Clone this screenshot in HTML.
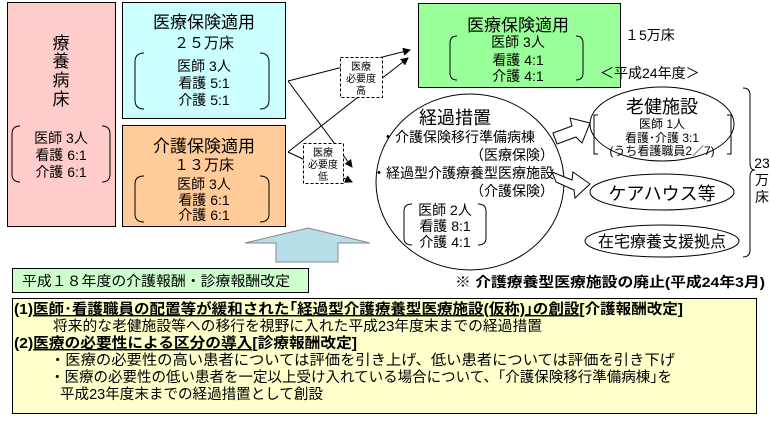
<!DOCTYPE html>
<html><head><meta charset="utf-8"><style>
body{margin:0;background:#fff}
svg{display:block;font-family:"Liberation Sans","Noto Sans CJK JP",sans-serif}
</style></head><body>
<svg width="770" height="421" viewBox="0 0 770 421" xmlns="http://www.w3.org/2000/svg">
<defs><marker id="ah" markerWidth="8" markerHeight="8" refX="7" refY="4" orient="auto" markerUnits="userSpaceOnUse"><path d="M0,0 L8,4 L0,8 z" fill="#000"/></marker></defs>
<!-- pink -->
<rect x="7.5" y="2.5" width="108" height="224" fill="#ffcccc" stroke="#000"/>
<g font-size="17" text-anchor="middle" fill="#000">
<text x="61" y="49">療</text><text x="61" y="67">養</text><text x="61" y="86">病</text><text x="61" y="105">床</text>
</g>
<g font-size="14" text-anchor="middle"><text x="61" y="143">医師 3人</text><text x="61" y="160">看護 6:1</text><text x="61" y="177">介護 6:1</text></g>
<path d="M20,126 Q12,126 12,134 L12,174 Q12,182 20,182 M102,126 Q110,126 110,134 L110,174 Q110,182 102,182" fill="none" stroke="#000"/>
<!-- cyan -->
<rect x="122.5" y="2.5" width="163" height="116" fill="#ccffff" stroke="#000"/>
<g text-anchor="middle"><text x="204" y="28" font-size="17">医療保険適用</text><text x="204" y="48" font-size="15">２５万床</text>
<g font-size="14"><text x="204" y="71">医師 3人</text><text x="204" y="88">看護 5:1</text><text x="204" y="105">介護 5:1</text></g></g>
<path d="M144,53 Q135,53 135,62 L135,100 Q135,109 144,109 M260,53 Q269,53 269,62 L269,100 Q269,109 260,109" fill="none" stroke="#000"/>
<!-- orange -->
<rect x="122.5" y="125.5" width="163" height="101" fill="#ffcc99" stroke="#000"/>
<g text-anchor="middle"><text x="204" y="152" font-size="17">介護保険適用</text><text x="204" y="170" font-size="15">１３万床</text>
<g font-size="14"><text x="204" y="189">医師 3人</text><text x="204" y="205">看護 6:1</text><text x="204" y="220">介護 6:1</text></g></g>
<path d="M144,176 Q135,176 135,184 L135,214 Q135,222 144,222 M260,176 Q269,176 269,184 L269,214 Q269,222 260,222" fill="none" stroke="#000"/>
<!-- up arrow -->
<polygon points="308,228 370,243 338,243 338,262 276,262 276,243 245,243" fill="#b7dde8" stroke="#888"/>
<!-- connectors -->
<g stroke="#000" stroke-width="1" marker-end="url(#ah)">
<line x1="288" y1="81" x2="410" y2="50"/><line x1="288" y1="81" x2="352" y2="167"/>
<line x1="288" y1="152" x2="408" y2="58"/><line x1="288" y1="152" x2="352" y2="182"/>
</g>
<rect x="340.5" y="57.5" width="42" height="40" fill="#fff" stroke="#000" stroke-dasharray="3,2"/>
<g font-size="10" text-anchor="middle"><text x="361" y="70">医療</text><text x="361" y="82">必要度</text><text x="361" y="94">高</text></g>
<rect x="303.5" y="143.5" width="40" height="40" fill="#fff" stroke="#000" stroke-dasharray="3,2"/>
<g font-size="10" text-anchor="middle"><text x="323" y="156">医療</text><text x="323" y="168">必要度</text><text x="323" y="180">低</text></g>
<!-- right green -->
<rect x="418.5" y="3.5" width="202" height="84" fill="#99ff99" stroke="#000"/>
<g text-anchor="middle"><text x="518" y="31" font-size="17">医療保険適用</text>
<g font-size="14"><text x="518" y="47">医師 3人</text><text x="518" y="65">看護 4:1</text><text x="518" y="81">介護 4:1</text></g></g>
<path d="M457,36 Q450,36 450,43 L450,73 Q450,80 457,80 M576,36 Q583,36 583,43 L583,73 Q583,80 576,80" fill="none" stroke="#000"/>
<text x="625" y="40" font-size="14">１5万床</text>
<text x="600" y="78" font-size="14">＜平成24年度＞</text>
<!-- big ellipse -->
<ellipse cx="470" cy="182" rx="94" ry="88" fill="#fff" stroke="#000"/>
<text x="455" y="124" font-size="18" text-anchor="middle">経過措置</text>
<g font-size="14"><text x="381" y="142">・介護保険移行準備病棟</text><text x="470" y="160">（医療保険）</text>
<text x="372" y="178">・経過型介護療養型医療施設</text><text x="470" y="196">（介護保険）</text></g>
<g font-size="14" text-anchor="middle"><text x="445" y="215">医師 2人</text><text x="445" y="231">看護 8:1</text><text x="445" y="247">介護 4:1</text></g>
<path d="M412,204 Q404,204 404,211 L404,238 Q404,245 412,245 M478,204 Q486,204 486,211 L486,238 Q486,245 478,245" fill="none" stroke="#000"/>
<!-- hollow arrows -->
<polygon points="553,133 572,126 570,118 590,123 582,143 576,137 557,144" fill="#fff" stroke="#000"/>
<polygon points="552,172 572,180 573,172 590,184 575,198 574,190 556,182" fill="#fff" stroke="#000"/>
<!-- right ellipses -->
<ellipse cx="662" cy="124" rx="72" ry="37" fill="#fff" stroke="#000"/>
<text x="662" y="113" font-size="18" text-anchor="middle">老健施設</text>
<g font-size="12" text-anchor="middle"><text x="662" y="128">医師 1人</text><text x="662" y="142">看護･介護 3:1</text><text x="662" y="155">(うち看護職員2／7)</text></g>
<path d="M598,115 L594,115 L594,154 L598,154 M727,115 L731,115 L731,154 L727,154" fill="none" stroke="#000"/>
<ellipse cx="662" cy="192" rx="72" ry="18" fill="#fff" stroke="#000"/>
<text x="662" y="200" font-size="18" text-anchor="middle">ケアハウス等</text>
<ellipse cx="662" cy="241" rx="77" ry="16" fill="#fff" stroke="#000"/>
<text x="662" y="247" font-size="16" text-anchor="middle">在宅療養支援拠点</text>
<path d="M743,88 Q750,88 750,95 L750,163 Q750,170 755,170 Q750,170 750,177 L750,250 Q750,257 743,257" fill="none" stroke="#000"/>
<g font-size="14" text-anchor="middle"><text x="762" y="168">23</text><text x="762" y="185">万</text><text x="762" y="202">床</text></g>
<!-- bottom -->
<rect x="12.5" y="268.5" width="296" height="24" fill="#ccffcc" stroke="#000"/>
<text x="22" y="286" font-size="14" textLength="268" lengthAdjust="spacingAndGlyphs">平成１８年度の介護報酬・診療報酬改定</text>
<text x="455" y="287" font-size="14" font-weight="bold" textLength="310" lengthAdjust="spacingAndGlyphs">※ 介護療養型医療施設の廃止(平成24年3月)</text>
<rect x="12.5" y="298.5" width="744" height="115" fill="#ffffcc" stroke="#000"/>
<g font-size="14.5">
<text x="14" y="314" font-weight="bold" textLength="669" lengthAdjust="spacingAndGlyphs">(1)<tspan text-decoration="underline">医師･看護職員の配置等が緩和された｢経過型介護療養型医療施設(仮称)｣の創設</tspan>[介護報酬改定]</text>
<text x="53" y="331" textLength="489" lengthAdjust="spacingAndGlyphs">将来的な老健施設等への移行を視野に入れた平成23年度末までの経過措置</text>
<text x="14" y="348" font-weight="bold" textLength="343" lengthAdjust="spacingAndGlyphs">(2)<tspan text-decoration="underline">医療の必要性による区分の導入</tspan>[診療報酬改定]</text>
<text x="50" y="365" textLength="625" lengthAdjust="spacingAndGlyphs">・医療の必要性の高い患者については評価を引き上げ、低い患者については評価を引き下げ</text>
<text x="50" y="382" textLength="622" lengthAdjust="spacingAndGlyphs">・医療の必要性の低い患者を一定以上受け入れている場合について、｢介護保険移行準備病棟｣を</text>
<text x="60" y="399" textLength="263" lengthAdjust="spacingAndGlyphs">平成23年度末までの経過措置として創設</text>
</g>
</svg>
</body></html>
